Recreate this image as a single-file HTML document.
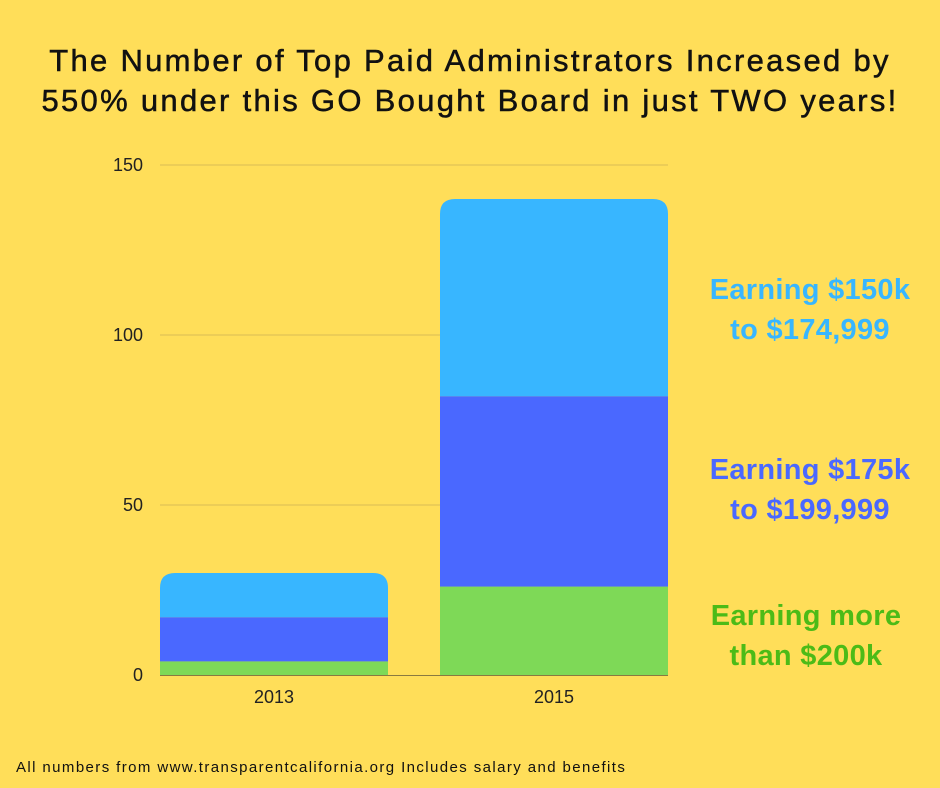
<!DOCTYPE html>
<html><head><meta charset="utf-8"><style>
body{margin:0;width:940px;height:788px;background:#FFDE59;overflow:hidden;font-family:"Liberation Sans",sans-serif;position:relative}
.t{position:absolute;left:0;width:940px;text-align:center;font-size:31px;letter-spacing:2.3px;color:#111;top:41px;line-height:40px;-webkit-text-stroke:0.5px #111}
.lab{position:absolute;text-align:center;font-weight:bold;font-size:29px;line-height:40px;width:260px;letter-spacing:0.3px}
.foot{position:absolute;left:16px;top:759px;font-size:15px;letter-spacing:1.4px;color:#111}
</style></head><body>
<div class="t">The Number of Top Paid Administrators Increased by<br>550% under this GO Bought Board in just TWO years!</div>
<svg id="c" width="940" height="788" style="position:absolute;left:0;top:0"></svg>
<div class="lab" style="left:680px;top:270px;color:#38B6FF">Earning $150k<br>to $174,999</div>
<div class="lab" style="left:680px;top:450px;color:#4A68FF">Earning $175k<br>to $199,999</div>
<div class="lab" style="left:676px;top:596px;color:#4CBB17">Earning more<br>than $200k</div>
<div class="foot">All numbers from www.transparentcalifornia.org Includes salary and benefits</div>
<script>
const categories=["2013","2015"];
const over200=[4,26];
const r175=[13,56];
const r150=[13,58];
const ticks=[0,50,100,150];
const ns="http://www.w3.org/2000/svg",svg=document.getElementById('c');
const y=v=>675-v*3.4, x0=i=>160+i*280, bw=228;
function mk(t,a){const e=document.createElementNS(ns,t);for(const k in a)e.setAttribute(k,a[k]);svg.appendChild(e);return e;}
ticks.forEach(t=>{
 if(t>0){const g=mk('line',{x1:160,x2:668,y1:y(t),y2:y(t),stroke:'#D9BC55','stroke-width':1});
 
 }
 const l=mk('text',{x:143,y:y(t)+6,'text-anchor':'end','font-size':18,fill:'#222','font-family':'Liberation Sans'});l.textContent=t;
 
 
});
const base=mk('line',{x1:160,x2:668,y1:675.5,y2:675.5,stroke:'#8a7a40','stroke-width':1});


categories.forEach((c,i)=>{
 const segs=[[over200[i],'#7ED957'],[r175[i],'#4A68FF'],[r150[i],'#38B6FF']];
 let acc=0;
 segs.forEach((s,j)=>{
  const top=y(acc+s[0]),bot=y(acc);acc+=s[0];
  let e;
  if(j==2){const r=15,X=x0(i);
   e=mk('path',{d:`M${X},${bot}V${top+r}Q${X},${top} ${X+r},${top}H${X+bw-r}Q${X+bw},${top} ${X+bw},${top+r}V${bot}Z`,fill:s[1]});}
  else e=mk('rect',{x:x0(i),y:top,width:bw,height:bot-top,fill:s[1]});
  
  
 });
 const l=mk('text',{x:x0(i)+bw/2,y:703,'text-anchor':'middle','font-size':18,fill:'#222','font-family':'Liberation Sans'});l.textContent=c;
 
 
});
</script>
</body></html>
